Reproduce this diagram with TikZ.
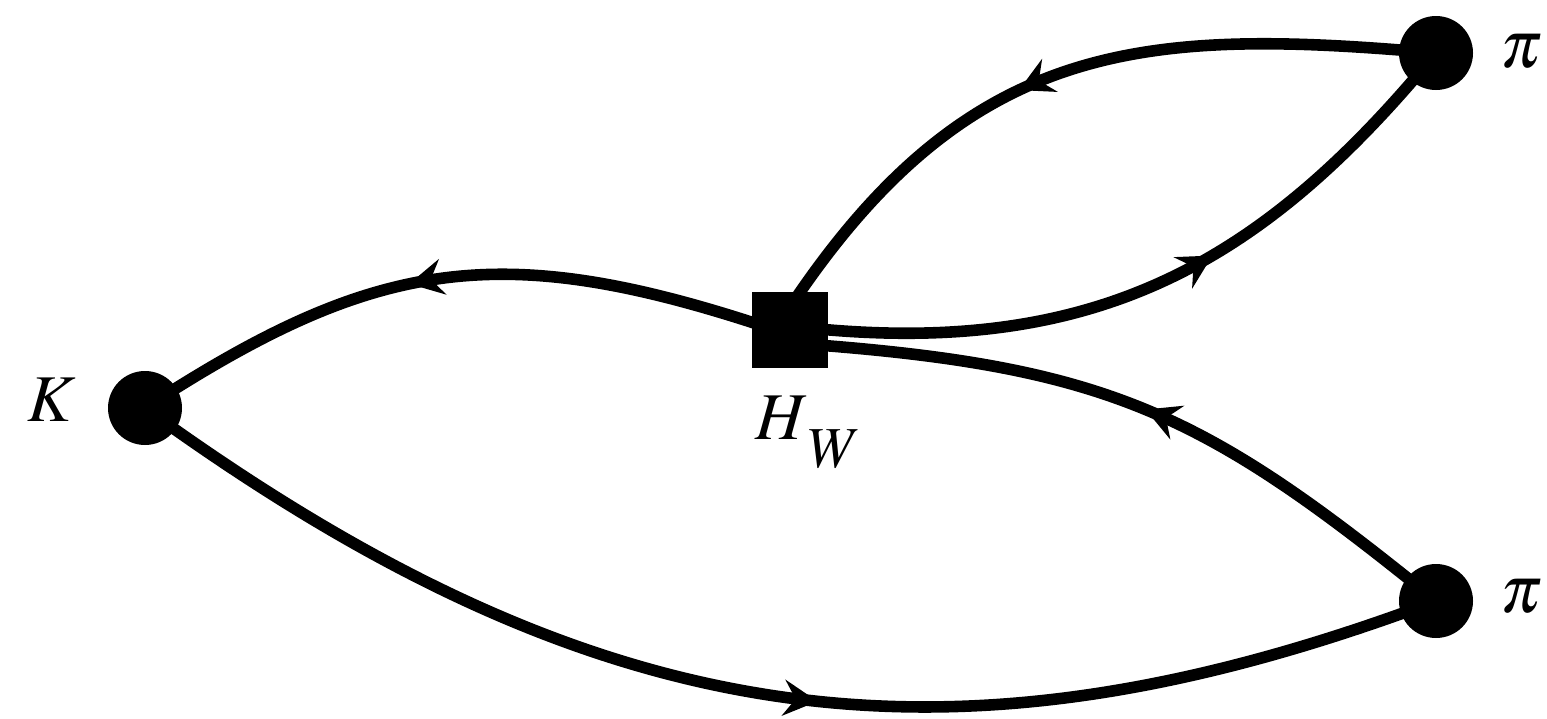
\documentclass[tikz,border=0pt]{standalone}
\usepackage{amsmath,amssymb}
\usepackage{mathptmx}
\usepackage{tikz}
\usetikzlibrary{arrows.meta,backgrounds,decorations.markings,positioning}
\tikzset{
  every picture/.append style={line cap=round,line join=round},
  kpi line/.style={line width=3.3pt},
  kpi meson/.style={circle,fill=black,minimum size=7.4mm,inner sep=0pt},
  kpi weak/.style={rectangle,fill=black,minimum size=7.6mm,inner sep=0pt},
  kpi label/.style={font=\fontsize{19}{22}\selectfont},
  kpi flow/.style={postaction={decorate},
    decoration={markings,mark=at position #1 with {\arrow{Stealth[length=3.4mm,width=3.6mm,inset=1.2mm]}}}}
}

\begin{document}
\begin{tikzpicture}
  \useasboundingbox (0,0) rectangle (15.47,7.18);
  \node[kpi meson] (K) at (1.45,3.10) {};
  \node[kpi meson] (pitop) at (14.36,6.65) {};
  \node[kpi meson] (pibot) at (14.36,1.17) {};
  \node[kpi weak] (HW) at (7.90,3.88) {};
  \node[kpi label] (Klab) at (0.52,3.18) {$K$};
  \node[kpi label] (pitoplab) at (15.22,6.66) {$\pi$};
  \node[kpi label] (piboblab) at (15.22,1.21) {$\pi$};
  \node[kpi label] (HWlab) at (8.08,2.86) {$H$\raisebox{-0.42em}{\fontsize{16.5}{18}\selectfont$W$}};
  \begin{scope}[on background layer]
    \draw[kpi line,kpi flow=0.57] ([yshift=-0.5mm]HW.center) .. controls (5.05,4.81) and (3.80,4.63) .. (K.center);
    \draw[kpi line,kpi flow=0.55] (pitop.center) .. controls (11.37,6.91) and (9.6,6.8) .. ([xshift=-1.5mm]HW.center);
    \draw[kpi line,kpi flow=0.59] ([yshift=0.4mm]HW.center) .. controls (10.88,3.57) and (12.58,4.49) .. (pitop.center);
    \draw[kpi line,kpi flow=0.49] (pibot.center) .. controls (12.03,3.06) and (11.09,3.53) .. ([yshift=-1.3mm]HW.center);
    \draw[kpi line,kpi flow=0.54] (K.center) .. controls (6.0,-0.2) and (9.5,-0.65) .. (pibot.center);
  \end{scope}
\end{tikzpicture}
\end{document}
